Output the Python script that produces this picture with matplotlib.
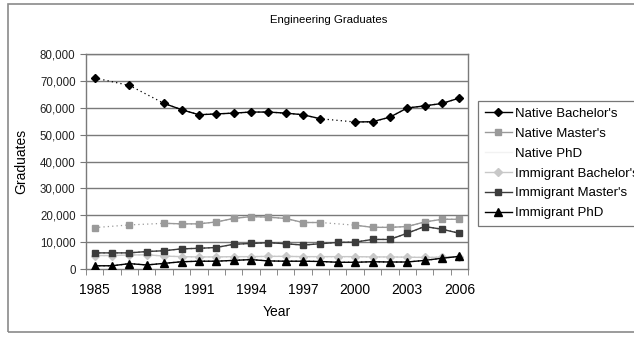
import matplotlib
matplotlib.use("Agg")
import matplotlib.pyplot as plt
import matplotlib.patches as patches
import numpy as np
from matplotlib.ticker import FuncFormatter, MultipleLocator

plt.rcParams['font.family'] = ['Liberation Sans', 'DejaVu Sans']

nan = np.nan
years = np.arange(1985, 2007)

native_bach = [71100, nan, 68300, nan, 61600, 59300, 57400, 57700, 58000, 58400, 58400,
               58000, 57400, 55900, nan, 54700, 54800, 56500, 59900, 60700, 61600, 63600]
native_mast = [15400, nan, 16400, nan, 17000, 16800, 16800, 17500, 18800, 19500, 19300,
               18800, 17300, 17300, nan, 16300, 15500, 15500, 15800, 17500, 18500, 18500]
native_phd = [nan] * 22
immig_bach = [5000, 5000, 5200, 5300, 4800, 4600, 4500, 4500, 4600, 4600, 4700,
              4700, 4600, 4600, 4600, 4600, 4500, 4500, 4400, 4300, 4400, 4600]
immig_mast = [6000, 6000, 6000, 6500, 6800, 7500, 7700, 8000, 9200, 9500, 9800,
              9400, 8900, 9400, 9900, 10000, 11000, 11000, 13300, 15800, 14800, 13300]
immig_phd = [1200, 1200, 2000, 1500, 2100, 2700, 2900, 2900, 3200, 3500, 3000,
             2900, 2900, 2800, 2500, 2500, 2700, 2600, 2600, 3200, 4000, 4700]

series = [
    ("Native Bachelor's", native_bach, 'black', 'D', 4.5),
    ("Native Master's", native_mast, '#9a9a9a', 's', 5.0),
    ("Native PhD", native_phd, '#f2f2f2', None, 4.0),
    ("Immigrant Bachelor's", immig_bach, '#c8c8c8', 'D', 4.0),
    ("Immigrant Master's", immig_mast, '#3c3c3c', 's', 5.0),
    ("Immigrant PhD", immig_phd, 'black', '^', 5.5),
]

fig = plt.figure(figsize=(6.34, 3.37), dpi=100)
ax = fig.add_axes([86/634, 1-269/337, 382/634, 215/337])

# outer chart border
fig.patches.append(patches.Rectangle((8/634, 1-332/337), 700/634, 328/337,
                                     transform=fig.transFigure, fill=False,
                                     ec='#8a8a8a', lw=1.2, zorder=0))

for y in range(10000, 80001, 10000):
    ax.axhline(y, color='#7a7a7a', lw=1.0, zorder=1)

handles = []
for name, vals, col, mk, ms in series:
    v = np.array(vals, dtype=float)
    ok = ~np.isnan(v)
    # dotted bridge across missing years
    if ok.any():
        ax.plot(years[ok], v[ok], ls=(0, (1, 2.5)), color=col, lw=0.9, zorder=2)
    h, = ax.plot(years, v, ls='-', color=col, lw=1.0, marker=mk, ms=ms,
                 mec=col, mfc=col, zorder=3, label=name)
    handles.append(h)

ax.set_xlim(1984.5, 2006.5)
ax.set_ylim(0, 80000)
ax.set_xticks(np.arange(1985, 2007, 3))
ax.set_xticks(np.arange(1984.5, 2007, 1), minor=True)
ax.tick_params(axis='x', which='major', length=0, labelsize=10, pad=10)
ax.tick_params(axis='x', which='minor', length=4, color='#777777', direction='out')
ax.yaxis.set_major_locator(MultipleLocator(10000))
ax.yaxis.set_major_formatter(FuncFormatter(lambda v, p: f"{int(v):,}"))
ax.tick_params(axis='y', labelsize=8.3, length=4, color='#777777')
for lab in ax.get_yticklabels():
    lab.set_color('#222222')
for s in ax.spines.values():
    s.set_color('#7a7a7a')
    s.set_linewidth(1.0)

ax.set_xlabel('Year', fontsize=10, labelpad=6)
ax.set_ylabel('Graduates', fontsize=10, labelpad=8)
fig.text(329/634, 1-20/337, 'Engineering Graduates', ha='center', va='center', fontsize=8.2)

leg = fig.legend(handles=handles, loc='upper left', bbox_to_anchor=(478/634, 1-101/337),
                 fontsize=9.5, frameon=True, fancybox=False, edgecolor='#555555',
                 handlelength=2.1, handletextpad=0.2, labelspacing=0.58,
                 borderpad=0.5, borderaxespad=0)
leg.get_frame().set_linewidth(0.9)

fig.savefig('out.png', dpi=100)
